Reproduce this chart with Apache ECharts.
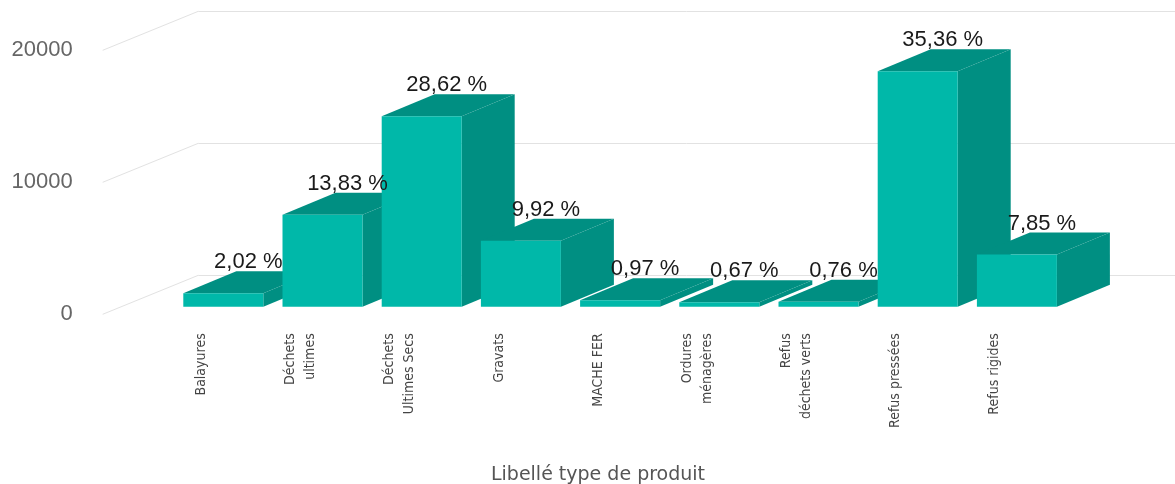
<!DOCTYPE html>
<html><head><meta charset="utf-8">
<script src="https://cdn.jsdelivr.net/npm/echarts@6/dist/echarts.min.js"></script>
<style>html,body{margin:0;padding:0;background:#fff}#c{width:1175px;height:484px}</style>
</head><body><div id="c"></div>
<script>
// ---- data ----
const categories = ['Balayures', 'Déchets\nultimes', 'Déchets\nUltimes Secs', 'Gravats', 'MACHE FER',
  'Ordures\nménagères', 'Refus\ndéchets verts', 'Refus pressées', 'Refus rigides'];
const values = [1020, 6984, 14453, 5010, 490, 338, 384, 17857, 3964];
const yTicks = [0, 10000, 20000];
const axisTitle = 'Libellé type de produit';

// ---- derived ----
const total = values.reduce((a, b) => a + b, 0);
const pctLabels = values.map(v => (v / total * 100).toFixed(2).replace('.', ',') + ' %');

// ---- styling constants ----
const FRONT = '#00b8a9', DARK = '#008f82', GRIDC = '#e2e2e2';
const BAR_W = 80;
const BD = [53, -22];     // bar depth vector
const FD = [95.6, -39];   // wall depth vector
const LABEL_FONT = '22px "Liberation Sans", Arial, sans-serif';
const YLAB_FONT = '22px "Liberation Sans", Arial, sans-serif';

const chart = echarts.init(document.getElementById('c'), null, {renderer: 'canvas'});

const option = {
  animation: false,
  backgroundColor: '#fff',
  grid: [
    {left: 173.7, right: 108.5, top: 43.1, bottom: 177.3, outerBoundsMode: 'none', containLabel: false},
    {left: 152, right: 131, top: 50.7, bottom: 169.7, outerBoundsMode: 'none', containLabel: false},
    {left: 198.3, right: 0, top: 11.3, bottom: 208.7, outerBoundsMode: 'none', containLabel: false}
  ],
  xAxis: [
    {type: 'category', gridIndex: 0, data: categories, show: false},
    {type: 'category', gridIndex: 1, data: categories,
      axisLine: {show: false}, axisTick: {show: false},
      axisLabel: {rotate: 90, margin: 19, interval: 0, fontSize: 14, lineHeight: 20,
        fontFamily: '"Liberation Sans Narrow", "DejaVu Sans Condensed", sans-serif', color: '#444'},
      name: axisTitle, nameLocation: 'middle', nameGap: 151,
      nameTextStyle: {fontSize: 19, color: '#555', fontFamily: '"DejaVu Sans", sans-serif'}
    },
    {type: 'value', gridIndex: 2, min: 0, max: 1, show: false}
  ],
  yAxis: [
    {type: 'value', gridIndex: 0, min: 0, max: 20000, interval: 10000, show: false},
    {type: 'value', gridIndex: 1, min: 0, max: 20000, interval: 10000, show: false},
    {type: 'value', gridIndex: 2, min: 0, max: 20000, interval: 10000,
      axisLine: {show: false}, axisTick: {show: false}, axisLabel: {show: false},
      splitLine: {show: true, lineStyle: {color: GRIDC, width: 1}}
    }
  ],
  series: [
    {
      type: 'custom', xAxisIndex: 2, yAxisIndex: 2, silent: true, z: 1,
      data: yTicks.map(v => [0, v]),
      renderItem: function (params, api) {
        const v = api.value(1);
        const p = api.coord([0, v]);
        const fx = p[0] - FD[0], fy = p[1] - FD[1];
        return {type: 'group', children: [
          {type: 'line', shape: {x1: p[0], y1: p[1], x2: fx, y2: fy}, style: {stroke: GRIDC, lineWidth: 1}},
          {type: 'text', style: {text: String(v), x: fx - 30, y: fy, align: 'right', verticalAlign: 'middle',
            font: YLAB_FONT, fill: '#666'}}
        ]};
      }
    },
    {
      type: 'custom', xAxisIndex: 0, yAxisIndex: 0, silent: true, z: 2,
      data: values.map((v, i) => [i, v]),
      renderItem: function (params, api) {
        const i = api.value(0), v = api.value(1);
        const top = api.coord([i, v]);
        const base = api.coord([i, 0]);
        const x0 = top[0] - BAR_W / 2, x1 = top[0] + BAR_W / 2;
        const yt = top[1], yb = base[1];
        return {type: 'group', children: [
          {type: 'polygon', shape: {points: [[x1, yt], [x1 + BD[0], yt + BD[1]], [x1 + BD[0], yb + BD[1]], [x1, yb]]},
            style: {fill: DARK}},
          {type: 'polygon', shape: {points: [[x0, yt], [x0 + BD[0], yt + BD[1]], [x1 + BD[0], yt + BD[1]], [x1, yt]]},
            style: {fill: DARK}},
          {type: 'rect', shape: {x: x0, y: yt, width: BAR_W, height: yb - yt}, style: {fill: FRONT}},
          {type: 'text', z2: 100, style: {text: pctLabels[i], x: top[0] + 25, y: yt - 31,
            align: 'center', verticalAlign: 'middle', font: LABEL_FONT, fill: '#1a1a1a'}}
        ]};
      }
    }
  ]
};
chart.setOption(option);
</script></body></html>
